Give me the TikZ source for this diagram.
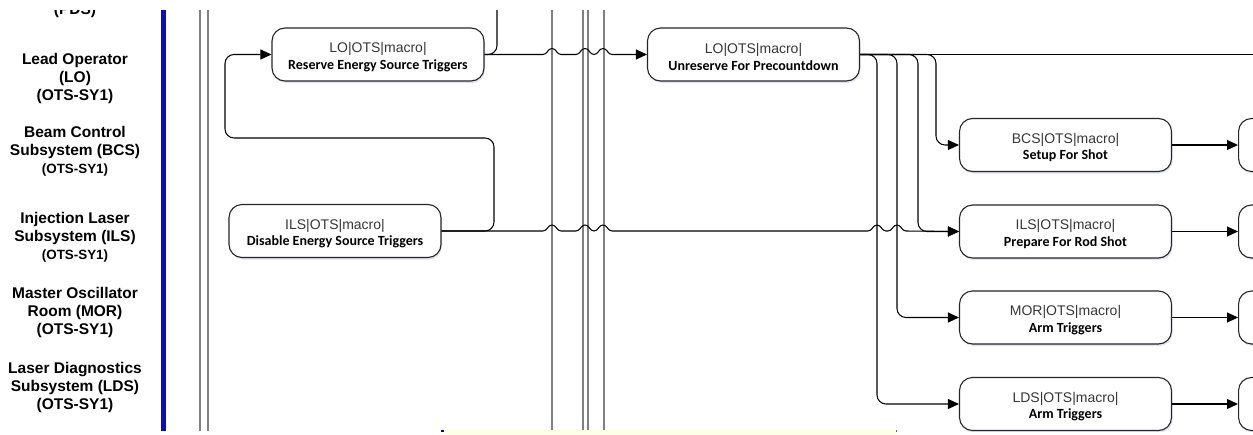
\documentclass[tikz,border=0pt]{standalone}
\usepackage{fontspec}
\setmainfont{Liberation Sans}
\newfontfamily\cali{Carlito}
\usetikzlibrary{arrows.meta,shadows}
\definecolor{lanegray}{RGB}{128,128,128}
\definecolor{laneblue}{RGB}{10,10,200}
\definecolor{tipyellow}{RGB}{255,255,225}
\definecolor{boxtext}{RGB}{55,55,55}
\newcommand\hp[2]{-- ({#1-9},#2) .. controls ({#1-4.5},#2) and ({#1-4.5},{#2-6}) .. (#1,{#2-6}) .. controls ({#1+4.5},{#2-6}) and ({#1+4.5},#2) .. ({#1+9},#2)}
\tikzset{
  lbl/.style={font=\fontsize{15.5}{18}\selectfont\bfseries, align=center, text=black, inner sep=0pt},
  box/.style={draw=black!85, line width=1.1pt, rounded corners=13pt, minimum width=212pt,
    minimum height=53pt, fill=white, align=center, inner sep=0pt, text=boxtext,
    font=\fontsize{14}{16.5}\selectfont,
    drop shadow={shadow xshift=1pt, shadow yshift=-2pt, opacity=0.15, fill=blue!50!gray}},
  conn/.style={draw=black, line width=1.05pt, rounded corners=9pt},
  hopline/.style={draw=black, line width=1.05pt, sharp corners},
  arr/.style={-{Triangle[length=11pt,width=10pt]}},
  lane/.style={draw=lanegray, line width=1.8pt},
}
\newcommand\bt[1]{{\cali\bfseries\color{black}\fontsize{14}{16.5}\selectfont #1}}
\newcommand\tp[1]{\rule{0pt}{15pt}#1}
\begin{document}
\begin{tikzpicture}[x=1pt,y=-1pt]
\useasboundingbox (0,0) rectangle (1253,434);
\fill[white] (0,0) rectangle (1253,434);
\begin{scope}
\clip (0,10) rectangle (1253,431);
% lanes
\draw[laneblue, line width=5pt] (163.3,10) -- (163.3,431);
\foreach \lx in {200,208,552,583,588,604}{\draw[lane] (\lx,10) -- (\lx,431);}
% labels
\node[lbl, anchor=base] (pds) at (75,14.5) {(PDS)};
\node[lbl] (lo) at (75,78) {Lead Operator\\(LO)\\(OTS-SY1)};
\node[lbl] (bcsl) at (75,151) {Beam Control\\Subsystem (BCS)\\{\fontsize{13.4}{18}\selectfont (OTS-SY1)}};
\node[lbl] (ilsl) at (75,237) {Injection Laser\\Subsystem (ILS)\\{\fontsize{13.4}{18}\selectfont (OTS-SY1)}};
\node[lbl] (morl) at (75,312) {Master Oscillator\\Room (MOR)\\(OTS-SY1)};
\node[lbl] (ldsl) at (75,387) {Laser Diagnostics\\Subsystem (LDS)\\(OTS-SY1)};
% boxes
\node[box] (res) at (378,54.5) {\tp{LO|OTS|macro|}\\\bt{Reserve Energy Source Triggers}};
\node[box] (dis) at (335,231) {\tp{ILS|OTS|macro|}\\\bt{Disable Energy Source Triggers}};
\node[box] (unr) at (753.5,54.5) {\tp{LO|OTS|macro|}\\\bt{Unreserve For Precountdown}};
\node[box] (bcs) at (1065.5,145) {\tp{BCS|OTS|macro|}\\\bt{Setup For Shot}};
\node[box] (ils) at (1065.5,231.5) {\tp{ILS|OTS|macro|}\\\bt{Prepare For Rod Shot}};
\node[box] (mor) at (1065.5,317.5) {\tp{MOR|OTS|macro|}\\\bt{Arm Triggers}};
\node[box] (lds) at (1065.5,404) {\tp{LDS|OTS|macro|}\\\bt{Arm Triggers}};
\node[box, anchor=west] (bcs2) at (1238,145) {};
\node[box, anchor=west] (ils2) at (1238,231.5) {};
\node[box, anchor=west] (mor2) at (1238,317.5) {};
\node[box, anchor=west] (lds2) at (1238,404) {};
\coordinate (resUp) at (497,0);
\coordinate (unrOut) at (1260,54.5);
% connectors
\draw[conn] (res.east) -- (497,54.5) -- (resUp);
\draw[conn, arr] (dis.east) -| (494,138) -| (225,54.5) -- (res.west);
\draw[hopline, arr] (res.east) \hp{552}{54.5} \hp{585}{54.5} \hp{603}{54.5} -- (unr.west);
\draw[hopline, arr] (dis.east) \hp{552}{231} \hp{585}{231} \hp{603}{231} \hp{877}{231} \hp{897}{231} -- (ils.west);
\draw[conn] (unr.east) -- (unrOut);
\draw[conn, arr] (unr.east) -| (936,145) -- (bcs.west);
\draw[conn, arr] (unr.east) -| (918,231.5) -- (ils.west);
\draw[conn, arr] (unr.east) -| (897,317.5) -- (mor.west);
\draw[conn, arr] (unr.east) -| (877,404) -- (lds.west);
\draw[conn, arr] (bcs.east) -- (bcs2.west);
\draw[conn, arr] (ils.east) -- (ils2.west);
\draw[conn, arr] (mor.east) -- (mor2.west);
\draw[conn, arr] (lds.east) -- (lds2.west);
\end{scope}
% tooltip strip at bottom
\fill[tipyellow] (442,429.5) rectangle (897,434);
\fill[blue!70!black] (441,429.5) rectangle (444,432);
\fill[black!60] (896,429.5) rectangle (897,432);
\end{tikzpicture}
\end{document}
